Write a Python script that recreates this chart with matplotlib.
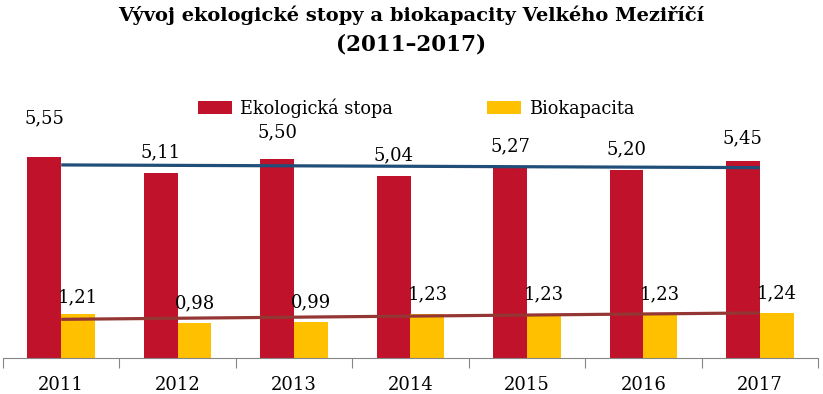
import matplotlib.pyplot as plt
import numpy as np

years = ["2011", "2012", "2013", "2014", "2015", "2016", "2017"]
stopa = [5.55, 5.11, 5.50, 5.04, 5.27, 5.20, 5.45]
biokapacita = [1.21, 0.98, 0.99, 1.23, 1.23, 1.23, 1.24]

# label offsets above bars (points), as Excel placed them
off_stopa = [28, 15, 19, 15, 15, 15, 16]
off_bio = [12, 14, 14, 14, 14, 14, 14]

red = "#C0122B"
yellow = "#FFC000"
blue = "#1F4E79"
brown = "#943634"

plt.rcParams['font.family'] = ['DejaVu Serif']

fig = plt.figure(figsize=(8.23, 3.94), dpi=100)
ax = fig.add_axes([3 / 823, 36 / 394, 815 / 823, 235 / 394])

x = np.arange(len(years))
w = 0.29
b1 = ax.bar(x - w / 2, stopa, w, color=red, label="Ekologická stopa")
b2 = ax.bar(x + w / 2, biokapacita, w, color=yellow, label="Biokapacita")

# linear trend lines
for vals, col in [(stopa, blue), (biokapacita, brown)]:
    k, q = np.polyfit(x, vals, 1)
    ax.plot(x, k * x + q, color=col, lw=2.3, solid_capstyle="butt", zorder=3)

for rect, v, o in zip(b1, stopa, off_stopa):
    ax.annotate(f"{v:.2f}".replace(".", ","), (rect.get_x() + rect.get_width() / 2, v),
                xytext=(0, o), textcoords="offset points", ha="center", va="center", fontsize=13)
for rect, v, o in zip(b2, biokapacita, off_bio):
    ax.annotate(f"{v:.2f}".replace(".", ","), (rect.get_x() + rect.get_width() / 2, v),
                xytext=(0, o), textcoords="offset points", ha="center", va="center", fontsize=13)

ax.set_xlim(-0.5, len(years) - 0.5)
ax.set_ylim(0, 6.5)
ax.set_yticks([])
for s in ["top", "right", "left"]:
    ax.spines[s].set_visible(False)
ax.spines["bottom"].set_color("#868686")
ax.set_xticks(np.arange(-0.5, len(years)), minor=False)
ax.set_xticklabels([])
ax.tick_params(axis="x", length=7, color="#868686")
ax.set_xticks(x, minor=True)
ax.set_xticklabels(years, minor=True, fontsize=13)
ax.tick_params(axis="x", which="minor", length=0, pad=13)

fig.legend(loc="center", bbox_to_anchor=(0.506, 1 - 108 / 394), ncol=2, frameon=False,
           fontsize=12.8, handlelength=1.9, handleheight=0.7, columnspacing=5.3, handletextpad=0.45)

fig.text(0.5, 1 - 15 / 394, "Vývoj ekologické stopy a biokapacity Velkého Meziříčí",
         ha="center", va="center", fontsize=14, fontweight="bold")
fig.text(0.5, 1 - 44 / 394, "(2011–2017)", ha="center", va="center", fontsize=15.5, fontweight="bold")

fig.savefig("out.png", dpi=100)
